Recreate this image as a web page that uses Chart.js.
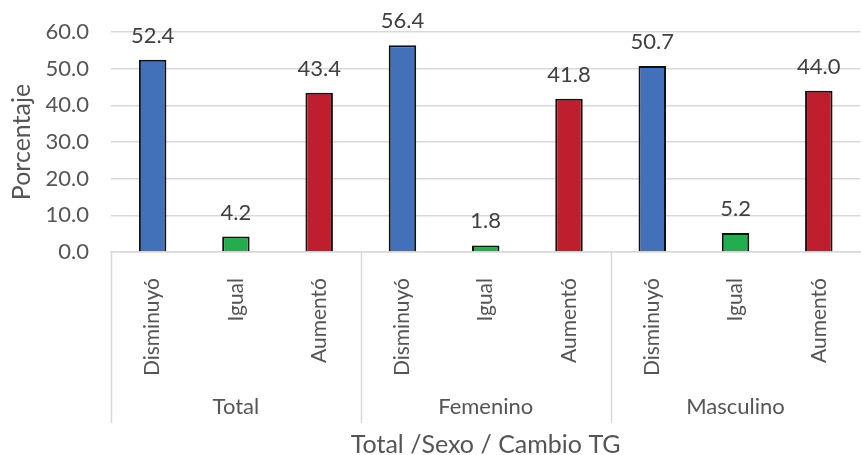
<!DOCTYPE html>
<html>
<head>
<meta charset="utf-8">
<script src="https://cdn.jsdelivr.net/npm/chart.js@4.4.0/dist/chart.umd.min.js"></script>
<style>
  html, body { margin: 0; padding: 0; background: #fff; }
  #wrap { width: 862px; height: 455px; }
</style>
</head>
<body>
<div id="wrap"><canvas id="myChart"></canvas></div>
<script>
const categories = ['Disminuyó', 'Igual', 'Aumentó', 'Disminuyó', 'Igual', 'Aumentó', 'Disminuyó', 'Igual', 'Aumentó'];
const groups = ['Total', 'Femenino', 'Masculino'];
const values = [52.4, 4.2, 43.4, 56.4, 1.8, 41.8, 50.7, 5.2, 44.0];
const barColors = ['#4371b9', '#23ad4e', '#be1e2d', '#4371b9', '#23ad4e', '#be1e2d', '#4371b9', '#23ad4e', '#be1e2d'];
const yTicks = [0, 10, 20, 30, 40, 50, 60];

const textColor = '#555555';
const fontFam = 'Lato, "Open Sans", sans-serif';

// value labels above each bar
const valueLabels = {
  id: 'valueLabels',
  afterDatasetsDraw(chart) {
    const ctx = chart.ctx;
    const meta = chart.getDatasetMeta(0);
    ctx.save();
    ctx.fillStyle = '#404040';
    ctx.font = '22px ' + fontFam;
    ctx.textAlign = 'center';
    ctx.textBaseline = 'bottom';
    meta.data.forEach((bar, i) => {
      ctx.fillText(values[i].toFixed(1), bar.x, bar.y - 13);
    });
    ctx.restore();
  }
};

// group separators and group names under the rotated labels
const groupAxis = {
  id: 'groupAxis',
  afterDraw(chart) {
    const ctx = chart.ctx;
    const x = chart.scales.x;
    const top = chart.chartArea.bottom;
    const step = x.getPixelForValue(1) - x.getPixelForValue(0);
    ctx.save();
    ctx.strokeStyle = '#d9d9d9';
    ctx.lineWidth = 1.5;
    for (let g = 0; g <= groups.length; g++) {
      const px = Math.round(x.getPixelForValue(g * 3) - step / 2) + 0.5;
      if (px > chart.width - 2) continue;
      ctx.beginPath();
      ctx.moveTo(px, top);
      ctx.lineTo(px, top + 171);
      ctx.stroke();
    }
    ctx.fillStyle = textColor;
    ctx.font = '22px ' + fontFam;
    ctx.textAlign = 'center';
    ctx.textBaseline = 'middle';
    groups.forEach((name, g) => {
      ctx.fillText(name, x.getPixelForValue(g * 3 + 1), top + 155);
    });
    ctx.restore();
  }
};

new Chart('myChart', {
  type: 'bar',
  data: {
    labels: categories,
    datasets: [{
      data: values,
      backgroundColor: barColors,
      borderColor: '#111',
      borderWidth: 2,
      borderSkipped: 'bottom',
      categoryPercentage: 1,
      barPercentage: 0.33
    }]
  },
  options: {
    responsive: true,
    maintainAspectRatio: false,
    animation: false,
    layout: { padding: { top: 32, right: 0, left: 0, bottom: 0 } },
    plugins: {
      legend: { display: false },
      tooltip: { enabled: false }
    },
    scales: {
      y: {
        min: 0,
        max: 60,
        afterFit(scale) {
          scale.width = 111;
          scale.paddingTop = 0;
          scale.paddingBottom = 0;
        },
        afterBuildTicks(scale) { scale.ticks = yTicks.map(v => ({ value: v })); },
        ticks: {
          color: textColor,
          font: { size: 22, family: fontFam },
          padding: 22,
          callback: v => v.toFixed(1)
        },
        grid: { color: '#d9d9d9', lineWidth: 1.5, drawTicks: false },
        border: { display: false },
        title: {
          display: true,
          text: 'Porcentaje',
          color: textColor,
          font: { size: 25, family: fontFam, lineHeight: 1 },
          padding: { top: 9, bottom: 0 }
        }
      },
      x: {
        afterFit(scale) { scale.height = 203; },
        ticks: {
          color: textColor,
          font: { size: 21, family: fontFam },
          minRotation: 90,
          maxRotation: 90,
          padding: 18,
          autoSkip: false
        },
        grid: { display: false },
        border: { display: true, color: '#d9d9d9', width: 1.5 },
        title: {
          display: true,
          text: 'Total /Sexo / Cambio TG',
          color: textColor,
          font: { size: 25, family: fontFam, lineHeight: 0.8 },
          padding: { top: 0, bottom: 0 }
        }
      }
    }
  },
  plugins: [valueLabels, groupAxis]
});
</script>
</body>
</html>
